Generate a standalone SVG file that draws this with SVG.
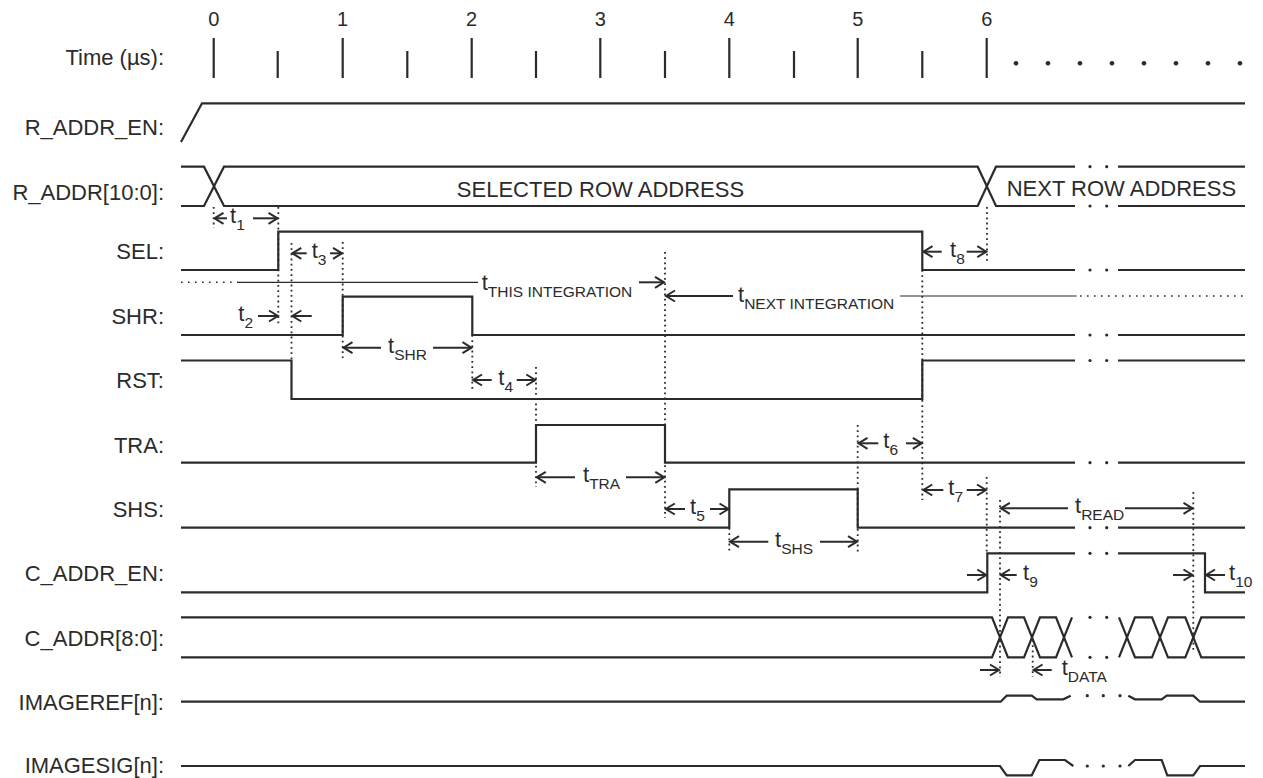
<svg xmlns="http://www.w3.org/2000/svg" width="1263" height="778" viewBox="0 0 1263 778">
<style>
text{font-family:"Liberation Sans",Arial,sans-serif;fill:#2b2b2b}
.lbl{font-size:22px;text-anchor:end}
.num{font-size:20px;text-anchor:middle}
.bus{font-size:22px}
.tl{font-size:22px}
.sub{font-size:15.5px}
.sig{fill:none;stroke:#2b2b2b;stroke-width:2.2;stroke-linejoin:miter}
.tick{stroke:#2b2b2b;stroke-width:2.2}
.dot{fill:#2b2b2b}
.vd{stroke:#2b2b2b;stroke-width:1.8;stroke-dasharray:1.8 3.4;fill:none}
.arr{stroke:#2b2b2b;stroke-width:2;fill:none;marker-end:url(#ah)}
.thin{stroke:#2b2b2b;stroke-width:1.2;fill:none}
.fd{stroke:#2b2b2b;stroke-width:1.6;stroke-dasharray:1.6 5.4;fill:none}
</style>
<defs>
<marker id="ah" markerUnits="userSpaceOnUse" markerWidth="14" markerHeight="14" viewBox="-11 -7 14 14" refX="0" refY="0" orient="auto">
<path d="M-9,-5.5 L0,0 L-9,5.5" fill="none" stroke="#2b2b2b" stroke-width="2"/>
</marker>
</defs>
<rect width="1263" height="778" fill="#ffffff"/>

<g id="time-axis">
<text class="lbl" x="164" y="65">Time (µs):</text>
<text class="num" x="213.7" y="26">0</text>
<text class="num" x="342.5" y="26">1</text>
<text class="num" x="471.5" y="26">2</text>
<text class="num" x="600.2" y="26">3</text>
<text class="num" x="729.2" y="26">4</text>
<text class="num" x="857.7" y="26">5</text>
<text class="num" x="986.7" y="26">6</text>
<path class="tick" d="M213.7,38V78M342.7,38V78M471.7,38V78M600.3,38V78M729.3,38V78M857.7,38V78M986.7,38V78"/>
<path class="tick" d="M277.7,51V78M407.3,51V78M536,51V78M665,51V78M794,51V78M922.3,51V78"/>
<circle class="dot" cx="1016" cy="63.3" r="2.3"/>
<circle class="dot" cx="1048" cy="63.3" r="2.3"/>
<circle class="dot" cx="1080" cy="63.3" r="2.3"/>
<circle class="dot" cx="1112" cy="63.3" r="2.3"/>
<circle class="dot" cx="1144" cy="63.3" r="2.3"/>
<circle class="dot" cx="1176" cy="63.3" r="2.3"/>
<circle class="dot" cx="1208" cy="63.3" r="2.3"/>
<circle class="dot" cx="1240" cy="63.3" r="2.3"/>
</g>

<g id="r-addr-en">
<text class="lbl" x="164" y="135">R_ADDR_EN:</text>
<path class="sig" d="M181,142 L202,103.3 H1245"/>
</g>

<g id="r-addr">
<text class="lbl" x="164" y="199.5">R_ADDR[10:0]:</text>
<path class="sig" d="M181,166.7 H204 L224,206 H977.7 L996,166.7 H1075"/>
<path class="sig" d="M181,206 H204 L224,166.7 H977.7 L996,206 H1075"/>
<path class="sig" d="M1118,166.7 H1245 M1118,206 H1245"/>
<circle class="dot" cx="1090" cy="166.7" r="1.6"/><circle class="dot" cx="1106.7" cy="166.7" r="1.6"/>
<circle class="dot" cx="1090" cy="206" r="1.6"/><circle class="dot" cx="1106.7" cy="206" r="1.6"/>
<text class="bus" x="600.5" y="196.5" text-anchor="middle">SELECTED ROW ADDRESS</text>
<text class="bus" x="1006.7" y="195.5">NEXT ROW ADDRESS</text>
</g>

<g id="sel">
<text class="lbl" x="164" y="259.3">SEL:</text>
<path class="sig" d="M181,270 H278.3 V231.7 H922.3 V270 H1075 M1118,270 H1245"/>
<circle class="dot" cx="1090" cy="270" r="1.6"/><circle class="dot" cx="1106.7" cy="270" r="1.6"/>
</g>

<g id="shr">
<text class="lbl" x="164" y="324">SHR:</text>
<path class="sig" d="M181,335 H342.7 V296.7 H472.3 V335 H1075 M1118,335 H1245"/>
<circle class="dot" cx="1090" cy="335" r="1.6"/><circle class="dot" cx="1106.7" cy="335" r="1.6"/>
</g>

<g id="rst">
<text class="lbl" x="164" y="388.3">RST:</text>
<path class="sig" d="M181,360.5 H291.5 V399 H922.3 V360.5 H1075 M1118,360.5 H1245"/>
<circle class="dot" cx="1090" cy="360.5" r="1.6"/><circle class="dot" cx="1106.7" cy="360.5" r="1.6"/>
</g>

<g id="tra">
<text class="lbl" x="164" y="452.7">TRA:</text>
<path class="sig" d="M181,462.7 H536 V425 H665 V462.7 H1075 M1118,462.7 H1245"/>
<circle class="dot" cx="1090" cy="462.7" r="1.6"/><circle class="dot" cx="1106.7" cy="462.7" r="1.6"/>
</g>

<g id="shs">
<text class="lbl" x="164" y="516.7">SHS:</text>
<path class="sig" d="M181,527.7 H729.3 V489.3 H857.7 V527.7 H1075 M1118,527.7 H1245"/>
<circle class="dot" cx="1090" cy="527.7" r="1.6"/><circle class="dot" cx="1106.7" cy="527.7" r="1.6"/>
</g>

<g id="c-addr-en">
<text class="lbl" x="164" y="580.7">C_ADDR_EN:</text>
<path class="sig" d="M181,592.3 H987.3 V553.3 H1075 M1118,553.3 H1205 V592.3 H1245"/>
<circle class="dot" cx="1090" cy="553.3" r="1.6"/><circle class="dot" cx="1106.7" cy="553.3" r="1.6"/>
</g>

<g id="c-addr">
<text class="lbl" x="164" y="645.7">C_ADDR[8:0]:</text>
<path class="sig" d="M181,617.3 H992 L1008,657.3 H1024 L1040,617.3 H1056 L1072,657.3"/>
<path class="sig" d="M181,657.3 H992 L1008,617.3 H1024 L1040,657.3 H1056 L1072,617.3"/>
<path class="sig" d="M1119,617.3 L1135,657.3 H1152 L1168,617.3 H1185.3 L1201.3,657.3 H1245"/>
<path class="sig" d="M1119,657.3 L1135,617.3 H1152 L1168,657.3 H1185.3 L1201.3,617.3 H1245"/>
<circle class="dot" cx="1090" cy="617.3" r="1.6"/><circle class="dot" cx="1106.7" cy="617.3" r="1.6"/>
<circle class="dot" cx="1090" cy="657.3" r="1.6"/><circle class="dot" cx="1106.7" cy="657.3" r="1.6"/>
</g>

<g id="imageref">
<text class="lbl" x="164" y="710">IMAGEREF[n]:</text>
<path class="sig" d="M181,701.7 H1000.7 L1006.7,695.7 H1031.7 L1036.7,699.3 H1063.3 L1070.7,695.7"/>
<path class="sig" d="M1128.3,695.7 L1135,699.3 H1161.7 L1166.7,695.7 H1193.3 L1200,701.7 H1245"/>
<circle class="dot" cx="1087.3" cy="695.7" r="1.6"/><circle class="dot" cx="1103.3" cy="695.7" r="1.6"/><circle class="dot" cx="1120" cy="695.7" r="1.6"/>
</g>

<g id="imagesig">
<text class="lbl" x="164" y="773">IMAGESIG[n]:</text>
<path class="sig" d="M181,766 H1000 L1006.7,775.3 H1031.7 L1039.3,760 H1065 L1073.3,766"/>
<path class="sig" d="M1128.3,766 L1135,760 H1161.7 L1167.3,775.3 H1193.3 L1200,766 H1245"/>
<circle class="dot" cx="1087.3" cy="766" r="1.6"/><circle class="dot" cx="1103.3" cy="766" r="1.6"/><circle class="dot" cx="1120" cy="766" r="1.6"/>
</g>

<g id="connectors">
<!-- vertical dotted reference lines -->
<path class="vd" d="M213.7,207V228"/>
<path class="vd" d="M278.3,207V325"/>
<path class="vd" d="M291.5,243V360"/>
<path class="vd" d="M342.7,242V358"/>
<path class="vd" d="M472.3,335V390"/>
<path class="vd" d="M536,367V487"/>
<path class="vd" d="M665,252V518"/>
<path class="vd" d="M729.3,528V552"/>
<path class="vd" d="M857.7,425V552"/>
<path class="vd" d="M922.3,270V500"/>
<path class="vd" d="M987,207V263"/>
<path class="vd" d="M986.7,477V553"/>
<path class="vd" d="M1000,500V677"/>
<path class="vd" d="M1032.7,640V677"/>
<path class="vd" d="M1193.3,492V652"/>

<!-- integration lines -->
<path class="fd" d="M181,282.3 H238"/>
<path class="thin" d="M238,282.3 H478"/>
<line class="arr" x1="639" y1="282.3" x2="664" y2="282.3"/>
<text class="tl" x="481.7" y="290">t<tspan class="sub" dy="6.5">THIS INTEGRATION</tspan></text>
<line class="arr" x1="733" y1="296" x2="666" y2="296"/>
<text class="tl" x="738" y="302">t<tspan class="sub" dy="7">NEXT INTEGRATION</tspan></text>
<path class="thin" d="M900,296 H1076.7"/>
<path class="fd" d="M1080,296 H1244"/>

<!-- t1 -->
<line class="arr" x1="227" y1="218.3" x2="214.5" y2="218.3"/>
<text class="tl" x="230" y="223">t<tspan class="sub" dy="7">1</tspan></text>
<line class="arr" x1="253" y1="218.3" x2="277.5" y2="218.3"/>
<!-- t2 -->
<text class="tl" x="238.3" y="321">t<tspan class="sub" dy="7">2</tspan></text>
<line class="arr" x1="258" y1="316" x2="278" y2="316"/>
<line class="arr" x1="311.7" y1="316" x2="292.3" y2="316"/>
<!-- t3 -->
<line class="arr" x1="306.7" y1="253.3" x2="292.3" y2="253.3"/>
<text class="tl" x="311.7" y="258.3">t<tspan class="sub" dy="7">3</tspan></text>
<line class="arr" x1="330" y1="253.3" x2="342" y2="253.3"/>
<!-- tSHR -->
<line class="arr" x1="381" y1="347.7" x2="343.5" y2="347.7"/>
<text class="tl" x="388" y="352.7">t<tspan class="sub" dy="7">SHR</tspan></text>
<line class="arr" x1="433" y1="347.7" x2="471.5" y2="347.7"/>
<!-- t4 -->
<line class="arr" x1="491.7" y1="380" x2="473" y2="380"/>
<text class="tl" x="498.3" y="385">t<tspan class="sub" dy="7">4</tspan></text>
<line class="arr" x1="516.7" y1="380" x2="535.3" y2="380"/>
<!-- tTRA -->
<line class="arr" x1="575" y1="477.3" x2="536.8" y2="477.3"/>
<text class="tl" x="583" y="482.3">t<tspan class="sub" dy="7">TRA</tspan></text>
<line class="arr" x1="626" y1="477.3" x2="664.3" y2="477.3"/>
<!-- t5 -->
<line class="arr" x1="685" y1="509" x2="665.8" y2="509"/>
<text class="tl" x="690" y="514">t<tspan class="sub" dy="7">5</tspan></text>
<line class="arr" x1="710" y1="509" x2="728.5" y2="509"/>
<!-- tSHS -->
<line class="arr" x1="768.3" y1="541.7" x2="730" y2="541.7"/>
<text class="tl" x="775" y="546.7">t<tspan class="sub" dy="7">SHS</tspan></text>
<line class="arr" x1="820" y1="541.7" x2="857" y2="541.7"/>
<!-- t6 -->
<line class="arr" x1="878.3" y1="443.3" x2="858.5" y2="443.3"/>
<text class="tl" x="883.3" y="448.3">t<tspan class="sub" dy="7">6</tspan></text>
<line class="arr" x1="906" y1="443.3" x2="921.8" y2="443.3"/>
<!-- t7 -->
<line class="arr" x1="943.3" y1="490" x2="923.3" y2="490"/>
<text class="tl" x="948.3" y="495">t<tspan class="sub" dy="7">7</tspan></text>
<line class="arr" x1="966.7" y1="490" x2="986" y2="490"/>
<!-- t8 -->
<line class="arr" x1="941.7" y1="251.7" x2="923.5" y2="251.7"/>
<text class="tl" x="950" y="256.7">t<tspan class="sub" dy="7">8</tspan></text>
<line class="arr" x1="966.7" y1="251.7" x2="986.3" y2="251.7"/>
<!-- tREAD -->
<line class="arr" x1="1068" y1="508.3" x2="1000.8" y2="508.3"/>
<text class="tl" x="1075" y="513.3">t<tspan class="sub" dy="7">READ</tspan></text>
<line class="arr" x1="1125" y1="508.3" x2="1192.5" y2="508.3"/>
<!-- t9 -->
<line class="arr" x1="967" y1="575" x2="986.3" y2="575"/>
<line class="arr" x1="1016.7" y1="575" x2="1000.8" y2="575"/>
<text class="tl" x="1023" y="580">t<tspan class="sub" dy="7">9</tspan></text>
<!-- t10 -->
<line class="arr" x1="1173" y1="575" x2="1192.5" y2="575"/>
<line class="arr" x1="1225" y1="575" x2="1206" y2="575"/>
<text class="tl" x="1229" y="580">t<tspan class="sub" dy="7">10</tspan></text>
<!-- tDATA -->
<line class="arr" x1="980" y1="670" x2="999" y2="670"/>
<line class="arr" x1="1051.7" y1="670" x2="1033.5" y2="670"/>
<text class="tl" x="1061.7" y="675">t<tspan class="sub" dy="7">DATA</tspan></text>
</g>
</svg>
